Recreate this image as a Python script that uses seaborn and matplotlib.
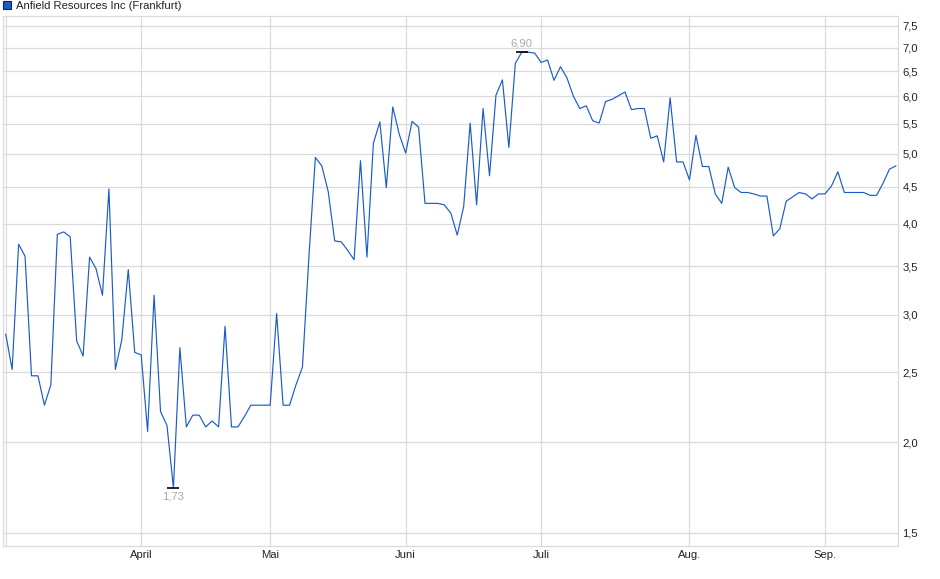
import numpy as np
import pandas as pd
import matplotlib
matplotlib.use("Agg")
import matplotlib.pyplot as plt
import seaborn as sns
from matplotlib.patches import Patch
from matplotlib.ticker import FixedLocator, FixedFormatter, NullLocator

# ---- data ----
series_name = "Anfield Resources Inc (Frankfurt)"
prices = [
    2.82, 2.52, 3.75, 3.61, 2.47, 2.47, 2.25, 2.40, 3.87, 3.90,
    3.84, 2.76, 2.63, 3.60, 3.47, 3.19, 4.47, 2.52, 2.77, 3.46,
    2.66, 2.64, 2.07, 3.19, 2.205, 2.11, 1.73, 2.70, 2.10, 2.18,
    2.18, 2.10, 2.14, 2.10, 2.89, 2.10, 2.10, 2.17, 2.25, 2.25,
    2.25, 2.25, 3.01, 2.25, 2.25, 2.40, 2.54, 3.60, 4.94, 4.81,
    4.43, 3.79, 3.78, 3.68, 3.57, 4.89, 3.60, 5.17, 5.53, 4.49,
    5.80, 5.32, 5.01, 5.54, 5.44, 4.27, 4.27, 4.27, 4.25, 4.14,
    3.86, 4.23, 5.51, 4.25, 5.77, 4.66, 6.02, 6.32, 5.10, 6.66,
    6.90, 6.90, 6.88, 6.68, 6.73, 6.31, 6.59, 6.36, 6.00, 5.77,
    5.82, 5.55, 5.51, 5.90, 5.94, 6.01, 6.08, 5.75, 5.77, 5.77,
    5.25, 5.29, 4.87, 5.97, 4.87, 4.87, 4.60, 5.30, 4.80, 4.80,
    4.40, 4.27, 4.79, 4.49, 4.42, 4.42, 4.40, 4.37, 4.37, 3.85,
    3.94, 4.30, 4.36, 4.42, 4.40, 4.33, 4.40, 4.40, 4.51, 4.72,
    4.42, 4.42, 4.42, 4.42, 4.38, 4.38, 4.55, 4.76, 4.81,
]
month_positions = [0, 21, 41, 62, 83, 106, 127]
month_labels = ["", "April", "Mai", "Juni", "Juli", "Aug.", "Sep."]
y_ticks = [1.5, 2.0, 2.5, 3.0, 3.5, 4.0, 4.5, 5.0, 5.5, 6.0, 6.5, 7.0, 7.5]
y_tick_labels = ["1,5", "2,0", "2,5", "3,0", "3,5", "4,0", "4,5", "5,0",
                 "5,5", "6,0", "6,5", "7,0", "7,5"]

df = pd.DataFrame({"idx": np.arange(len(prices)), "price": prices})

# ---- style ----
sns.set_style("white")
plt.rcParams["font.family"] = ["Liberation Sans", "DejaVu Sans"]

LINE_COLOR = "#1a5cc8"
GRID_COLOR = "#dadada"
TEXT_COLOR = "#222222"
ANNOT_COLOR = "#a8a8a8"
FS = 8.1

fig = plt.figure(figsize=(9.40, 5.79), dpi=100)
ax = fig.add_axes([3 / 940, 1 - 546 / 579, 895.3 / 940, 530 / 579])

sns.lineplot(data=df, x="idx", y="price", ax=ax, color=LINE_COLOR,
             linewidth=0.85, legend=False)

ax.set_yscale("log")
ax.set_ylim(1.439, 7.74)
ax.set_xlim(-0.42, 138.37)

ax.yaxis.set_major_locator(FixedLocator(y_ticks))
ax.yaxis.set_major_formatter(FixedFormatter(y_tick_labels))
ax.yaxis.set_minor_locator(NullLocator())
ax.yaxis.tick_right()
ax.xaxis.set_major_locator(FixedLocator(month_positions))
ax.xaxis.set_major_formatter(FixedFormatter(month_labels))
ax.xaxis.set_minor_locator(NullLocator())

ax.tick_params(axis="y", which="both", length=0, pad=3.0, labelsize=FS,
               labelcolor=TEXT_COLOR)
ax.tick_params(axis="x", which="both", length=2, color=GRID_COLOR, pad=1.2,
               labelsize=FS, labelcolor=TEXT_COLOR)

ax.grid(True, which="major", color=GRID_COLOR, linewidth=0.9)
ax.set_axisbelow(True)
for side in ["left", "right", "top", "bottom"]:
    ax.spines[side].set_visible(True)
    ax.spines[side].set_color(GRID_COLOR)
    ax.spines[side].set_linewidth(0.9)
ax.set_xlabel("")
ax.set_ylabel("")

# ---- min / max markers ----
arr = np.array(prices)
i_max = int(np.argmax(arr))
i_min = int(np.argmin(arr))
ax.plot([i_max], [arr[i_max]], marker="_", markersize=8, markeredgewidth=1.2,
        color="black", linestyle="none")
ax.plot([i_min], [arr[i_min]], marker="_", markersize=8, markeredgewidth=1.2,
        color="black", linestyle="none")
ax.annotate(f"{arr[i_max]:.2f}".replace(".", ","), xy=(i_max, arr[i_max]),
            xytext=(0, 2.5), textcoords="offset points", ha="center", va="bottom",
            fontsize=FS, color=ANNOT_COLOR)
ax.annotate(f"{arr[i_min]:.2f}".replace(".", ","), xy=(i_min, arr[i_min]),
            xytext=(0, -2.5), textcoords="offset points", ha="center", va="top",
            fontsize=FS, color=ANNOT_COLOR)

# ---- legend ----
handle = Patch(facecolor=LINE_COLOR, edgecolor="#0b2350", linewidth=0.8,
               label=series_name)
fig.legend(handles=[handle], loc="upper left", bbox_to_anchor=(2 / 940, 1.0),
           bbox_transform=fig.transFigure, frameon=False, fontsize=FS,
           handlelength=0.72, handleheight=0.72, handletextpad=0.4,
           borderaxespad=0.0, borderpad=0.12, labelcolor=TEXT_COLOR)

fig.savefig("out.png", dpi=100)
